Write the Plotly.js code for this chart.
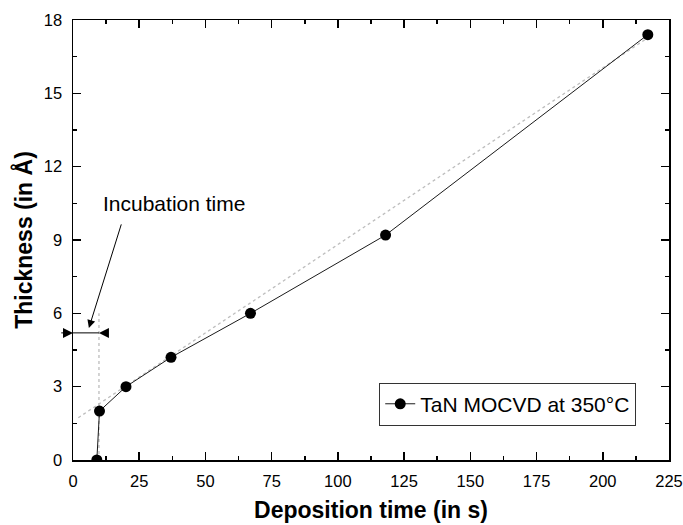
<!DOCTYPE html>
<html>
<head>
<meta charset="utf-8">
<script src="https://cdn.plot.ly/plotly-3.0.1.min.js"></script>
<style>html,body{margin:0;padding:0;background:#fff;}#chart{width:683px;height:525px;}</style>
</head>
<body>
<div id="chart"></div>
<script>
// Data
const depositionTime = [9, 10, 20, 37, 67, 118, 217];
const thickness = [0, 2, 3, 4.2, 6, 9.2, 17.4];
const seriesName = 'TaN MOCVD at 350°C';

// Linear fit guide (dotted)
const fitTime = [2, 216];
const fitThickness = [1.73, 17.2];

// Incubation time guide
const incubationTime = 9.8;
const incubationGuideY = [0, 6];
const incubationArrowY = 5.2;

const xTickVals = [0, 25, 50, 75, 100, 125, 150, 175, 200, 225];
const yTickVals = [0, 3, 6, 9, 12, 15, 18];

const FONT = 'Arial, "Liberation Sans", Helvetica, sans-serif';

const traces = [
  {
    x: fitTime, y: fitThickness, type: 'scatter', mode: 'lines',
    line: {color: '#bdbdbd', width: 1.3, dash: 'dot'},
    showlegend: false, hoverinfo: 'skip'
  },
  {
    x: [incubationTime, incubationTime], y: incubationGuideY, type: 'scatter', mode: 'lines',
    line: {color: '#bdbdbd', width: 1.3, dash: 'dot'},
    showlegend: false, hoverinfo: 'skip'
  },
  {
    x: depositionTime, y: thickness, type: 'scatter', mode: 'lines+markers',
    name: seriesName,
    line: {color: '#000', width: 0.9},
    marker: {color: '#000', size: 11, symbol: 'circle'}
  }
];

const axisCommon = {
  showgrid: false, zeroline: false,
  showline: true, linecolor: '#000', linewidth: 1.5,
  mirror: 'allticks', ticks: 'inside', ticklen: 8, tickwidth: 1.5, tickcolor: '#000',
  tickfont: {family: FONT, size: 16.5, color: '#000'},
  ticklabelstandoff: 6,
  ticklabeloverflow: 'allow'
};

const layout = {
  width: 683, height: 525,
  margin: {l: 73, r: 14, t: 20, b: 65},
  paper_bgcolor: '#fff', plot_bgcolor: '#fff',
  showlegend: true,
  legend: {
    x: 0.945, y: 0.127, xanchor: 'right', yanchor: 'middle',
    bgcolor: '#fff', bordercolor: '#333', borderwidth: 1,
    font: {family: FONT, size: 21, color: '#000'},
    tracegroupgap: 0
  },
  xaxis: Object.assign({}, axisCommon, {
    range: [0, 225], tickvals: xTickVals, ticktext: xTickVals.map(String),
    minor: {dtick: 12.5, tick0: 0, ticks: 'inside', ticklen: 4, tickwidth: 1.5, tickcolor: '#000'},
    title: {text: 'Deposition time (in s)', font: {family: FONT, size: 23, color: '#000', weight: 'bold'}, standoff: 12}
  }),
  yaxis: Object.assign({}, axisCommon, {
    range: [0, 18], tickvals: yTickVals, ticktext: yTickVals.map(String),
    minor: {dtick: 1.5, tick0: 0, ticks: 'inside', ticklen: 4, tickwidth: 1.5, tickcolor: '#000'},
    title: {text: 'Thickness (in Å)', font: {family: FONT, size: 23, color: '#000', weight: 'bold'}, standoff: 5}
  }),
  shapes: [
    {type: 'line', xref: 'x', yref: 'y', x0: 0, x1: incubationTime, y0: incubationArrowY, y1: incubationArrowY,
     line: {color: '#000', width: 1}}
  ],
  annotations: [
    {x: 0, y: incubationArrowY, ax: -5, ay: incubationArrowY, axref: 'x', ayref: 'y', xref: 'x', yref: 'y',
     text: '', showarrow: true, arrowhead: 2, arrowsize: 2, arrowwidth: 1, arrowcolor: '#000'},
    {x: incubationTime, y: incubationArrowY, ax: 13, ay: incubationArrowY, axref: 'x', ayref: 'y', xref: 'x', yref: 'y',
     text: '', showarrow: true, arrowhead: 2, arrowsize: 2, arrowwidth: 1, arrowcolor: '#000'},
    {x: 6, y: 5.4, ax: 18.4, ay: 9.7, axref: 'x', ayref: 'y', xref: 'x', yref: 'y',
     text: '', showarrow: true, arrowhead: 2, arrowsize: 1.6, arrowwidth: 1, arrowcolor: '#000'},
    {x: 38, y: 10.5, xref: 'x', yref: 'y', text: 'Incubation time', showarrow: false,
     font: {family: FONT, size: 21, color: '#000'}}
  ]
};

Plotly.newPlot('chart', traces, layout, {displayModeBar: false, staticPlot: true});
</script>
</body>
</html>
